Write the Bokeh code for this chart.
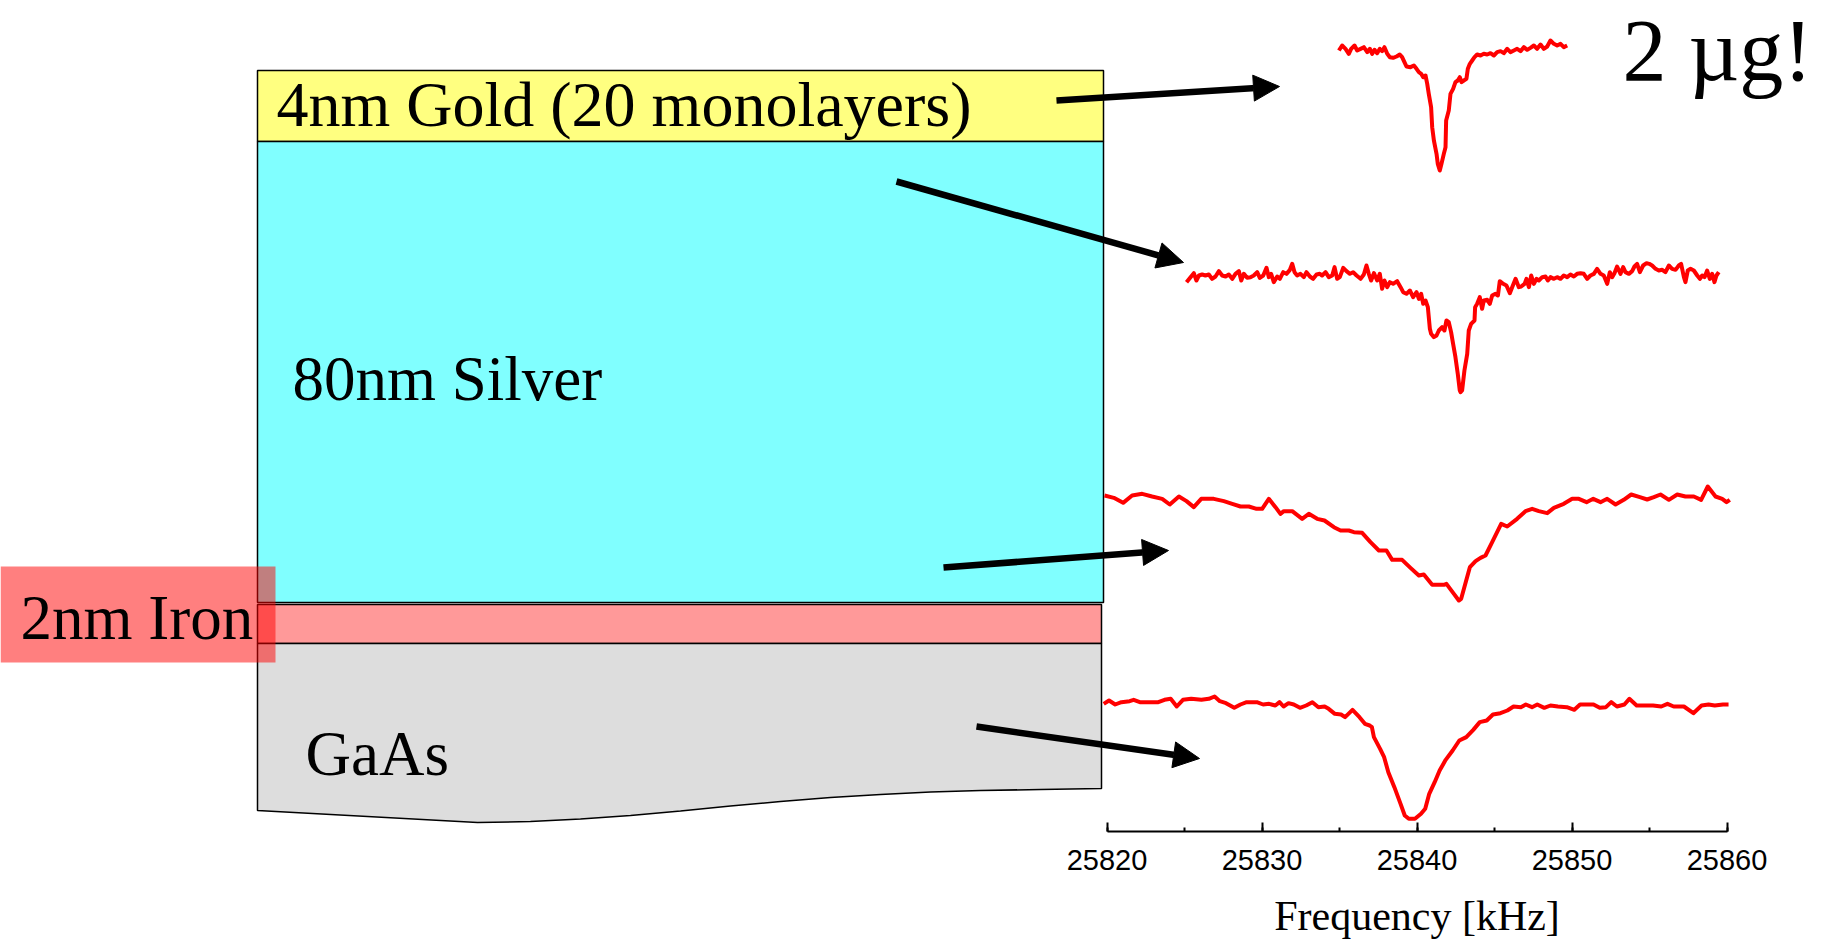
from bokeh.plotting import figure
from bokeh.models import Range1d, LinearAxis, SingleIntervalTicker, Label, Arrow, NormalHead
from bokeh.embed import file_html
from bokeh.resources import INLINE

# ---------------------------------------------------------------------------
# Resonance spectra (frequency in kHz, signal in arbitrary units)
# ---------------------------------------------------------------------------
gold_freq = [
    25834.96, 25835.17, 25835.39, 25835.60, 25835.75, 25835.97, 25836.14, 25836.36, 25836.57, 25836.79,
    25836.96, 25837.11, 25837.26, 25837.43, 25837.60, 25837.75, 25837.90, 25838.08, 25838.25, 25838.46,
    25838.68, 25838.89, 25839.04, 25839.19, 25839.32, 25839.58, 25839.80, 25839.97, 25840.12, 25840.27,
    25840.40, 25840.55, 25840.66, 25840.76, 25840.91, 25840.98, 25841.09, 25841.26, 25841.34, 25841.47,
    25841.58, 25841.73, 25841.84, 25841.88, 25842.05, 25842.16, 25842.33, 25842.48, 25842.63, 25842.76,
    25842.87, 25843.02, 25843.19, 25843.28, 25843.41, 25843.56, 25843.71, 25843.88, 25844.10, 25844.31,
    25844.53, 25844.74, 25844.96, 25845.17, 25845.39, 25845.60, 25845.82, 25846.03, 25846.25, 25846.46,
    25846.68, 25846.89, 25847.11, 25847.32, 25847.54, 25847.75, 25847.97, 25848.18, 25848.40, 25848.61,
    25848.83, 25849.04, 25849.26, 25849.47, 25849.69,
]
gold_signal = [
    390, 405, 395, 380, 395, 405, 390, 395, 400, 385,
    395, 380, 392, 382, 395, 388, 400, 380, 370, 368,
    372, 378, 370, 355, 342, 340, 345, 335, 325, 320,
    310, 315, 290, 260, 220, 160, 120, 80, 50, 30,
    50, 80, 100, 180, 210, 260, 275, 295, 300, 310,
    295, 300, 305, 335, 350, 360, 370, 378, 375, 380,
    378, 382, 375, 385, 388, 382, 395, 385, 390, 395,
    388, 400, 392, 398, 405, 395, 408, 395, 402, 420,
    410, 405, 410, 400, 405,
]

silver_top_freq = [
    25825.13, 25825.39, 25825.60, 25825.77, 25825.93, 25826.14, 25826.35, 25826.57, 25826.78, 25827.00,
    25827.22, 25827.43, 25827.65, 25827.86, 25828.08, 25828.29, 25828.51, 25828.66, 25828.83, 25829.04,
    25829.26, 25829.47, 25829.69, 25829.86, 25830.08, 25830.29, 25830.44, 25830.59, 25830.76, 25830.98,
    25831.15, 25831.37, 25831.58, 25831.80, 25831.95, 25832.10, 25832.27, 25832.48, 25832.70, 25832.87,
    25833.09, 25833.30, 25833.52, 25833.73, 25833.88, 25834.10, 25834.31, 25834.53, 25834.68, 25834.85,
    25835.02, 25835.24, 25835.45, 25835.67, 25835.88, 25836.10, 25836.36, 25836.57, 25836.74, 25836.89,
    25837.04, 25837.22, 25837.43, 25837.60, 25837.75, 25837.90, 25838.08, 25838.25, 25838.46, 25838.72,
    25838.94, 25839.11, 25839.32, 25839.54, 25839.75, 25839.97, 25840.12, 25840.27, 25840.40, 25840.55,
    25840.70, 25840.83, 25840.91, 25841.09, 25841.26, 25841.41, 25841.62, 25841.77, 25841.90, 25842.05,
    25842.20, 25842.33, 25842.48, 25842.63, 25842.76,
    25842.81, 25842.91, 25843.06, 25843.24, 25843.34, 25843.49, 25843.71, 25843.75, 25843.88, 25844.05,
    25844.20, 25844.31, 25844.53, 25844.70, 25844.85, 25845.06, 25845.22, 25845.34, 25845.56, 25845.77,
    25845.99, 25846.14, 25846.36, 25846.57, 25846.72, 25846.94, 25847.06, 25847.22, 25847.37, 25847.54,
    25847.71, 25847.86, 25848.08, 25848.29, 25848.44, 25848.61, 25848.83, 25849.04, 25849.26, 25849.47,
    25849.69, 25849.90, 25850.12, 25850.33, 25850.55, 25850.76, 25850.98, 25851.19, 25851.41, 25851.62,
    25851.84, 25852.05, 25852.27, 25852.44, 25852.59, 25852.74, 25852.91, 25853.13, 25853.30, 25853.45,
    25853.67, 25853.88, 25854.03, 25854.20, 25854.38, 25854.59, 25854.81, 25854.98, 25855.17, 25855.39,
    25855.60, 25855.82, 25856.03, 25856.25, 25856.46, 25856.68, 25856.89, 25857.04, 25857.22, 25857.32,
    25857.47, 25857.65, 25857.86, 25858.08, 25858.25, 25858.40, 25858.55, 25858.72, 25858.89, 25859.04,
    25859.19, 25859.32, 25859.47,
]
silver_top_signal = [
    355, 370, 382, 360, 375, 378, 375, 378, 365, 372,
    388, 375, 372, 378, 365, 380, 388, 360, 380, 368,
    370, 375, 385, 368, 375, 398, 370, 380, 355, 372,
    365, 385, 380, 392, 410, 385, 375, 380, 370, 385,
    372, 365, 378, 380, 375, 385, 370, 375, 400, 365,
    370, 398, 388, 380, 385, 375, 365, 378, 405, 380,
    360, 382, 360, 380, 335, 360, 340, 355, 350, 358,
    340, 325, 320, 330, 310, 325, 305, 320, 290, 300,
    280, 215, 200, 190, 195, 210, 220, 210, 240, 235,
    205, 170, 130, 80, 30,
    25, 30, 90, 140, 210, 230, 240, 280, 290, 310,
    275, 300, 302, 290, 315, 320, 315, 358, 350, 345,
    322, 340, 365, 340, 342, 350, 365, 340, 375, 350,
    365, 360, 370, 372, 360, 370, 365, 370, 365, 375,
    370, 378, 372, 380, 382, 380, 365, 375, 380, 395,
    380, 375, 350, 385, 370, 382, 402, 380, 400, 385,
    380, 388, 402, 410, 385, 405, 412, 410, 405, 395,
    390, 392, 385, 405, 395, 392, 405, 410, 370, 355,
    390, 395, 390, 375, 365, 375, 370, 390, 365, 380,
    355, 375, 385,
]

silver_bottom_freq = [
    25819.84, 25820.44, 25821.04, 25821.62, 25822.27, 25822.91, 25823.56, 25824.05, 25824.64, 25825.13,
    25825.60, 25826.08, 25826.89, 25827.54, 25828.08, 25828.61, 25829.15, 25829.65, 25830.01, 25830.44,
    25830.87, 25831.19, 25831.41, 25831.95, 25832.59, 25833.02, 25833.56, 25834.03, 25834.64, 25835.07,
    25835.60, 25835.93, 25836.46, 25837.00, 25837.54, 25838.03, 25838.40, 25839.04, 25839.58, 25840.12,
    25840.44, 25840.98, 25841.73, 25841.90, 25842.38, 25842.70, 25842.85, 25843.41, 25843.78, 25844.10,
    25844.42, 25844.85, 25845.43, 25845.82, 25846.46, 25847.00, 25847.43, 25847.86, 25848.40, 25848.83,
    25849.47, 25850.01, 25850.44, 25850.94, 25851.37, 25851.84, 25852.27, 25852.81, 25853.34, 25853.82,
    25854.38, 25854.85, 25855.28, 25855.71, 25856.25, 25856.79, 25857.32, 25857.86, 25858.33, 25858.76,
    25859.26, 25859.69, 25859.97, 25860.18,
]
silver_bottom_signal = [
    345, 338, 323, 345, 350, 342, 335, 318, 342, 328,
    310, 335, 335, 328, 320, 312, 312, 305, 305, 335,
    310, 290, 298, 298, 275, 290, 275, 270, 250, 240,
    240, 235, 233, 205, 180, 180, 152, 152, 128, 105,
    108, 77, 77, 80, 50, 30, 35, 130, 148, 158,
    165, 205, 260, 252, 275, 298, 305, 298, 292, 308,
    320, 335, 335, 325, 335, 325, 335, 318, 332, 348,
    340, 333, 340, 348, 332, 348, 342, 342, 332, 372,
    342, 335, 325, 332,
]

gaas_freq = [
    25819.79, 25820.13, 25820.53, 25820.93, 25821.46, 25821.72, 25822.12, 25822.65, 25823.31, 25823.71,
    25824.11, 25824.50, 25824.90, 25825.43, 25826.09, 25826.57, 25826.94, 25827.28, 25827.68, 25828.21,
    25828.61, 25829.01, 25829.67, 25830.07, 25830.46, 25830.86, 25831.13, 25831.39, 25831.71, 25832.05,
    25832.45, 25832.85, 25833.25, 25833.64, 25834.04, 25834.30, 25834.70, 25835.10, 25835.36, 25835.84,
    25836.29, 25836.64, 25836.95, 25837.09, 25837.22, 25837.62, 25837.88, 25838.15, 25838.54, 25838.94,
    25839.21, 25839.47, 25839.87, 25840.26, 25840.53, 25840.79, 25841.14, 25841.46, 25841.85, 25842.30,
    25842.73, 25843.18, 25843.63, 25844.05, 25844.50, 25844.90, 25845.38, 25845.83, 25846.23, 25846.70,
    25847.02, 25847.42, 25847.76, 25848.21, 25848.61, 25849.09, 25849.67, 25850.15, 25850.52, 25850.99,
    25851.39, 25851.79, 25852.19, 25852.53, 25852.90, 25853.38, 25853.70, 25854.17, 25854.70, 25855.23,
    25855.76, 25856.16, 25856.56, 25857.22, 25857.83, 25858.36, 25858.81, 25859.21, 25859.74, 25860.10,
]
gaas_signal = [
    380, 390, 378, 385, 388, 392, 385, 385, 385, 392,
    395, 372, 392, 395, 392, 395, 402, 388, 382, 368,
    378, 385, 385, 378, 380, 375, 385, 372, 382, 378,
    368, 375, 385, 370, 372, 365, 350, 348, 340, 362,
    340, 320, 315, 310, 280, 245, 220, 175, 130, 80,
    45, 35, 35, 50, 65, 110, 145, 180, 212, 240,
    270, 280, 302, 325, 330, 348, 352, 360, 372, 370,
    378, 370, 378, 368, 375, 372, 370, 362, 378, 378,
    378, 368, 370, 385, 372, 378, 395, 375, 375, 375,
    372, 380, 372, 372, 352, 375, 378, 375, 378, 378,
]

# frequency axis
freq_ticks_start, freq_ticks_end, freq_tick_step = 25820, 25860, 10

# ---------------------------------------------------------------------------
# Page layout (pixel units, measured from the top-left corner of the page)
# ---------------------------------------------------------------------------
W, H = 1830, 939
AXIS_Y = 831                    # vertical position of the frequency axis
AXIS_X0, PX_PER_KHZ = 1106.5, 15.5
SIGNAL_PER_PX = 3.0

p = figure(width=W, height=H,
           x_range=Range1d(0, W), y_range=Range1d(H, 0),
           x_axis_location=None, y_axis_location=None,
           toolbar_location=None, output_backend="svg",
           min_border=0)
p.grid.visible = False
p.outline_line_color = None
p.background_fill_color = "white"
p.border_fill_color = "white"

p.extra_x_ranges = {
    "freq": Range1d(freq_ticks_start - AXIS_X0 / PX_PER_KHZ,
                    freq_ticks_start + (W - AXIS_X0) / PX_PER_KHZ)
}

# --- layer stack --------------------------------------------------------
STACK_LEFT = 257
BORDER = "black"

p.quad(left=STACK_LEFT, right=1103, top=70, bottom=141,
       fill_color="#FFFF80", line_color=BORDER, line_width=1.5)
p.quad(left=STACK_LEFT, right=1103, top=141, bottom=602,
       fill_color="#80FFFF", line_color=BORDER, line_width=1.5)
p.quad(left=STACK_LEFT, right=1101, top=604, bottom=643,
       fill_color="#FF9999", line_color=BORDER, line_width=1.5)

# substrate with a broken-off, gently curved lower edge
substrate_x = [STACK_LEFT, 1101, 1101, 1040, 980, 930, 880, 830, 780, 730, 680, 630, 580, 530, 477,
               STACK_LEFT]
substrate_y = [643, 643, 788, 789, 790, 791.5, 794, 797, 801, 805.5, 810.5, 815, 818.5, 821, 822,
               810]
p.patch(substrate_x, substrate_y, fill_color="#DDDDDD", line_color=BORDER, line_width=1.5)

# translucent tag behind the iron label
p.quad(left=0, right=275, top=566, bottom=662,
       fill_color="#FF0000", fill_alpha=0.5, line_color=None)

# --- spectra ------------------------------------------------------------
spectra = [
    ("gold", gold_freq, gold_signal, 180),
    ("silver_top", silver_top_freq, silver_top_signal, 400),
    ("silver_bottom", silver_bottom_freq, silver_bottom_signal, 610),
    ("gaas", gaas_freq, gaas_signal, 830),
]
for name, freq, signal, zero_px in spectra:
    p.extra_y_ranges[name] = Range1d(-SIGNAL_PER_PX * (H - zero_px),
                                     SIGNAL_PER_PX * zero_px)
    p.line(freq, signal, x_range_name="freq", y_range_name=name,
           line_color="#FF0000", line_width=4, line_join="round")

# --- arrows from each layer to its spectrum -----------------------------
arrows = [
    (1056, 100, 1279, 86),
    (896, 181, 1183, 262),
    (943, 567, 1168, 550),
    (976, 726, 1199, 758),
]
for x0, y0, x1, y1 in arrows:
    p.add_layout(Arrow(x_start=x0, y_start=y0, x_end=x1, y_end=y1,
                       line_color="black", line_width=6.5,
                       end=NormalHead(size=26, fill_color="black",
                                      line_color="black", line_width=1)))

# --- text ---------------------------------------------------------------
SERIF = "Liberation Serif"
axis_center_px = AXIS_X0 + PX_PER_KHZ * (freq_ticks_end - freq_ticks_start) / 2
texts = [
    ("4nm Gold (20 monolayers)", 276, 104, "64px", "left"),
    ("80nm Silver", 292, 378, "63px", "left"),
    ("2nm Iron", 20, 617, "63px", "left"),
    ("GaAs", 305, 753, "63px", "left"),
    ("2 \u00b5g!", 1622, 50, "88px", "left"),
    ("Frequency [kHz]", axis_center_px, 915, "42px", "center"),
]
for txt, x, y, size, align in texts:
    p.add_layout(Label(x=x, y=y, text=txt, text_font=SERIF, text_font_size=size,
                       text_color="black", text_align=align,
                       text_baseline="alphabetic"))

# --- frequency axis, pinned at AXIS_Y inside the frame ------------------
freq_axis = LinearAxis(
    x_range_name="freq",
    ticker=SingleIntervalTicker(interval=freq_tick_step, num_minor_ticks=2),
    bounds=(freq_ticks_start, freq_ticks_end),
    fixed_location=AXIS_Y,
)
freq_axis.axis_line_color = "black"
freq_axis.axis_line_width = 2
freq_axis.major_tick_line_color = "black"
freq_axis.major_tick_line_width = 2
freq_axis.major_tick_in = 9
freq_axis.major_tick_out = 0
freq_axis.minor_tick_line_color = "black"
freq_axis.minor_tick_line_width = 2
freq_axis.minor_tick_in = 4
freq_axis.minor_tick_out = 0
freq_axis.major_label_text_font = "Liberation Sans"
freq_axis.major_label_text_font_size = "29px"
freq_axis.major_label_text_color = "black"
freq_axis.major_label_standoff = 18
p.add_layout(freq_axis, "below")

open("out.html", "w").write(file_html(p, INLINE))
